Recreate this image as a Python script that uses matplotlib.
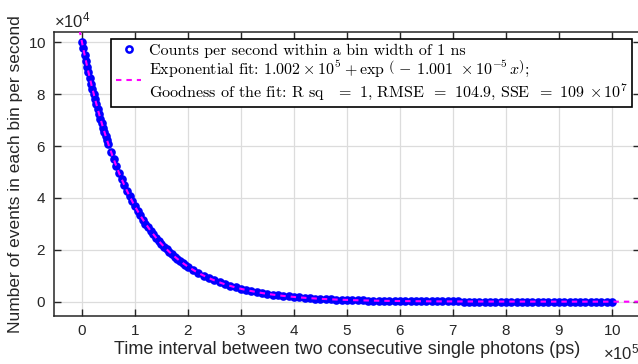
## Histogram of time intervals between consecutive single photons with exponential fit
import numpy as np
import matplotlib
matplotlib.use("Agg")
import matplotlib.pyplot as plt
from matplotlib.ticker import ScalarFormatter, MultipleLocator
from matplotlib.font_manager import FontProperties

plt.rcParams['font.family'] = ['Liberation Sans', 'DejaVu Sans']
plt.rcParams['mathtext.fontset'] = 'custom'
plt.rcParams['mathtext.rm'] = 'Liberation Sans'
plt.rcParams['mathtext.it'] = 'Liberation Sans:italic'

## Bin start times (ps), finer sampling where the decay is steep
time_ps = np.concatenate([np.arange(0, 50001, 2500),
                          np.arange(55000, 200001, 5000),
                          np.arange(210000, 1000001, 10000)])

## Counts per second in each 1 ns bin
counts = [100200, 97720, 95310, 92950, 90660, 88420, 86230, 84100, 82020, 79990,
          78020, 76090, 74210, 72370, 70590, 68840, 67140, 65480, 63860, 62280,
          60740,
          57780, 54960, 52280, 49720, 47300, 44990, 42790, 40700, 38720, 36830,
          35030, 33320, 31690, 30140, 28670, 27270, 25940, 24670, 23470, 22320,
          21230, 20200, 19210, 18270, 17380, 16530, 15730, 14960, 14230, 13530,
          12240, 11080, 10020, 9070, 8200, 7420, 6720, 6080, 5500, 4970,
          4500, 4070, 3680, 3330, 3020, 2730, 2470, 2230, 2020, 1830,
          1650, 1500, 1350, 1230, 1110, 1000, 910, 820, 740, 670,
          610, 550, 500, 450, 410, 370, 330, 300, 270, 250,
          220, 200, 180, 170, 150, 140, 120, 110, 100, 90,
          80, 70, 70, 60, 60, 50, 50, 40, 40, 30,
          30, 30, 20, 20, 20, 20, 20, 20, 10, 10,
          10, 10, 10, 10, 10, 10, 10, 10, 0, 0]

## Fit coefficients
fit_a = 1.002e5
fit_b = 1.001e-5

x_lim = [-0.52e5, 10.52e5]
y_lim = [-5400, 104100]

data_label = "Counts per second within a bin width of 1 ns"
fit_label = (r"Exponential fit: $1.002\times10^{5}+\exp\,\left(\,-\,1.001\ \times10^{-5}\,x\right)$;" + "\n" +
             r"Goodness of the fit: R sq  $\,=$ 1, RMSE $\,=$ 104.9, SSE $\,=$ 109 $\times\,10^{7}$")

dark = '#262626'

f = plt.figure(figsize=(6.38, 3.64), dpi=100)
ax = f.add_axes([0.0851, 0.1327, 0.9173, 0.7802])

# dense rings overlap into a solid band
ax.plot(time_ps, counts, 'o', mfc='blue', mec='blue', ms=4.4, mew=1.8, label=data_label, zorder=3)

fit_x = np.linspace(x_lim[0], x_lim[1], 2000)
ax.plot(fit_x, fit_a * np.exp(-fit_b * fit_x), '--', color='magenta', lw=1.5,
        dashes=(2.6, 2.4), label=fit_label, zorder=4)

ax.set_xlim(x_lim)
ax.set_ylim(y_lim)
ax.xaxis.set_major_locator(MultipleLocator(1e5))
ax.yaxis.set_major_locator(MultipleLocator(2e4))

## Fixed exponents: x10^5 on x, x10^4 on y
for axis, p in [(ax.xaxis, 5), (ax.yaxis, 4)]:
	fmt = ScalarFormatter(useMathText=True)
	fmt.set_powerlimits((p, p))
	axis.set_major_formatter(fmt)
	axis.get_offset_text().set_fontsize(12)
	axis.get_offset_text().set_color(dark)

ax.tick_params(direction='in', length=5, width=1.0, colors=dark, labelsize=11,
               top=True, right=True, pad=6)
for sp in ax.spines.values():
	sp.set_color(dark)
	sp.set_linewidth(1.1)

ax.grid(True, color='#dcdcdc', lw=0.9)
ax.set_axisbelow(True)

ax.set_xlabel("Time interval between two consecutive single photons (ps)", fontsize=13, color=dark, labelpad=2)
ax.set_ylabel("Number of events in each bin per second", fontsize=12.5, color=dark, labelpad=3)

leg_font = FontProperties(family='cmr10', size=11.5, math_fontfamily='cm')
leg = ax.legend(loc='upper right', prop=leg_font, fancybox=False, framealpha=1,
                edgecolor='black', borderpad=0.3, labelspacing=0.05,
                handlelength=1.6, handletextpad=0.45, borderaxespad=0.45)
leg.get_frame().set_linewidth(1.2)
hd = leg.legend_handles[0]
hd.set_markerfacecolor('none')
hd.set_markersize(4.5)
hd.set_markeredgewidth(1.8)

f.savefig('out.png', dpi=100)
